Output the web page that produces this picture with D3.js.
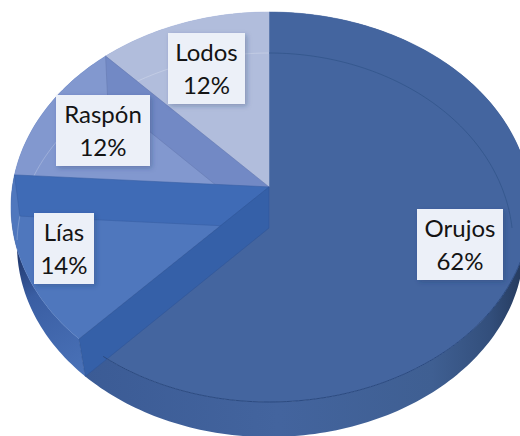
<!DOCTYPE html>
<html lang="es">
<head>
    <meta charset="UTF-8">
    <title>Pie 3D</title>
    <script src="https://cdn.jsdelivr.net/npm/d3@7"></script>
    <style>
        html, body { margin: 0; padding: 0; background: #fff; }
        svg { display: block; }
        text { font-family: Lato, "Open Sans", sans-serif; fill: #141414; }
    </style>
</head>
<body>
<svg width="520" height="436"></svg>
<script>
    // data
    var categories = ["Orujos", "Lías", "Raspón", "Lodos"];
    var shares = [62, 14, 12, 12];

    // styles, one per slice
    var faceColors = ["#44659f", "#4f77bd", "#8298cf", "#b1bddc"];
    var wallColors = ["#3560a8", "#3f6bb6", "#7289c5", "#b1bddc"];
    var labelBoxes = [[417, 209, 86], [34, 213, 60], [56, 95, 94], [168, 33, 77]];

    // the tilted disc: top face and bottom face, the right side bulges a bit more
    var topDisc = {cx: 269, cy: 207, rx: 258, rxRight: 262, ry: 195, k: -0.103};
    var bottomDisc = {cx: 269, cy: 245, rx: 252, rxRight: 255, ry: 192, k: -0.0885};
    var backArc = {cx: 269, cy: 245, rx: 252, rxRight: 244, ry: 192, k: -0.0885};

    function project(disc, angle, r) {
        var u = r * Math.sin(angle), v = -r * Math.cos(angle);
        var w = 1 + disc.k * v;
        return [
            disc.cx + (u > 0 ? disc.rxRight : disc.rx) * u * Math.sqrt(1 - disc.k * disc.k) / w,
            disc.cy + disc.ry * (v + disc.k) / w
        ];
    }

    function rim(disc, a0, a1) {
        var n = Math.ceil(Math.abs(a1 - a0) / 0.02);
        return d3.range(n + 1).map(i => project(disc, a0 + (a1 - a0) * i / n, 1));
    }

    var svg = d3.select("svg");
    var line = d3.line();
    var closedPath = pts => line(pts) + "Z";

    var slices = d3.pie().sort(null)(shares);

    var defs = svg.append("defs");
    var grad = defs.append("linearGradient").attr("id", "sideGrad")
        .attr("gradientUnits", "userSpaceOnUse")
        .attr("x1", 80).attr("x2", 520).attr("y1", 0).attr("y2", 0);
    [[0, "#3b5b95"], [0.45, "#43649e"], [0.8, "#3f5f92"], [0.93, "#334f7c"], [1, "#263c60"]].forEach(function (s) {
        grad.append("stop").attr("offset", s[0]).attr("stop-color", s[1]);
    });
    var gradLeft = defs.append("linearGradient").attr("id", "sideGradLeft")
        .attr("gradientUnits", "userSpaceOnUse")
        .attr("x1", 15).attr("x2", 85).attr("y1", 260).attr("y2", 375);
    [[0, "#223a70"], [0.3, "#3a5ea3"], [1, "#4a72b8"]].forEach(function (s) {
        gradLeft.append("stop").attr("offset", s[0]).attr("stop-color", s[1]);
    });
    var shadow = defs.append("filter").attr("id", "boxShadow")
        .attr("x", "-20%").attr("y", "-20%").attr("width", "150%").attr("height", "150%");
    shadow.append("feDropShadow").attr("dx", 2).attr("dy", 2).attr("stdDeviation", 2.5)
        .attr("flood-color", "#1f3864").attr("flood-opacity", 0.3);

    // outer side of the slices
    var sides = ["url(#sideGrad)", "url(#sideGradLeft)", "#3f6bb6", "#8298cf"];
    slices.forEach(function (d, i) {
        svg.append("path")
            .attr("d", closedPath(rim(topDisc, d.startAngle, d.endAngle)
                .concat(rim(bottomDisc, d.endAngle, d.startAngle))))
            .attr("fill", sides[i]);
    });

    // top faces
    var apexTop = project(topDisc, 0, 0), apexBottom = project(bottomDisc, 0, 0);
    slices.forEach(function (d, i) {
        svg.append("path")
            .attr("d", closedPath([apexTop].concat(rim(topDisc, d.startAngle, d.endAngle))))
            .attr("fill", faceColors[i])
            .attr("stroke", faceColors[i]).attr("stroke-width", 0.5);
    });

    // far edge of the bottom seen through the faces
    slices.forEach(function (d) {
        var a0 = Math.max(d.startAngle, Math.PI * 1.48);
        if (d.endAngle <= a0) return;
        svg.append("path")
            .attr("d", line(rim(bottomDisc, a0, d.endAngle)))
            .attr("fill", "none").attr("stroke", "#ffffff").attr("stroke-opacity", 0.22);
    });
    svg.append("path")
        .attr("d", line(rim(backArc, 0, Math.PI * 0.5)))
        .attr("fill", "none").attr("stroke", "#2f5288").attr("stroke-opacity", 0.7);

    // cut walls between slices, back one first
    [2, 1, 0].forEach(function (i) {
        var a = slices[i].endAngle;
        var rimTop = project(topDisc, a, 1), rimBottom = project(bottomDisc, a, 1);
        svg.append("path")
            .attr("d", closedPath([apexTop, rimTop, rimBottom, apexBottom]))
            .attr("fill", wallColors[i])
            .attr("stroke", d3.color(wallColors[i]).darker(0.3)).attr("stroke-width", 0.6);
    });

    // front rim edge
    svg.append("path")
        .attr("d", line(rim(topDisc, Math.PI * 0.5, slices[0].endAngle - 0.12)))
        .attr("fill", "none").attr("stroke", "#2b4a80").attr("stroke-width", 1);

    // labels
    var boxH = 71;
    slices.forEach(function (d, i) {
        var b = labelBoxes[i];
        var g = svg.append("g").attr("transform", `translate(${b[0]}, ${b[1]})`);
        g.append("rect")
            .attr("width", b[2]).attr("height", boxH)
            .attr("fill", "#ecf0f8")
            .attr("filter", "url(#boxShadow)");
        g.append("text")
            .attr("x", b[2] / 2).attr("y", 28)
            .attr("text-anchor", "middle").attr("font-size", 24)
            .text(categories[i]);
        g.append("text")
            .attr("x", b[2] / 2).attr("y", 61)
            .attr("text-anchor", "middle").attr("font-size", 24)
            .text(shares[i] + "%");
    });
</script>
</body>
</html>
